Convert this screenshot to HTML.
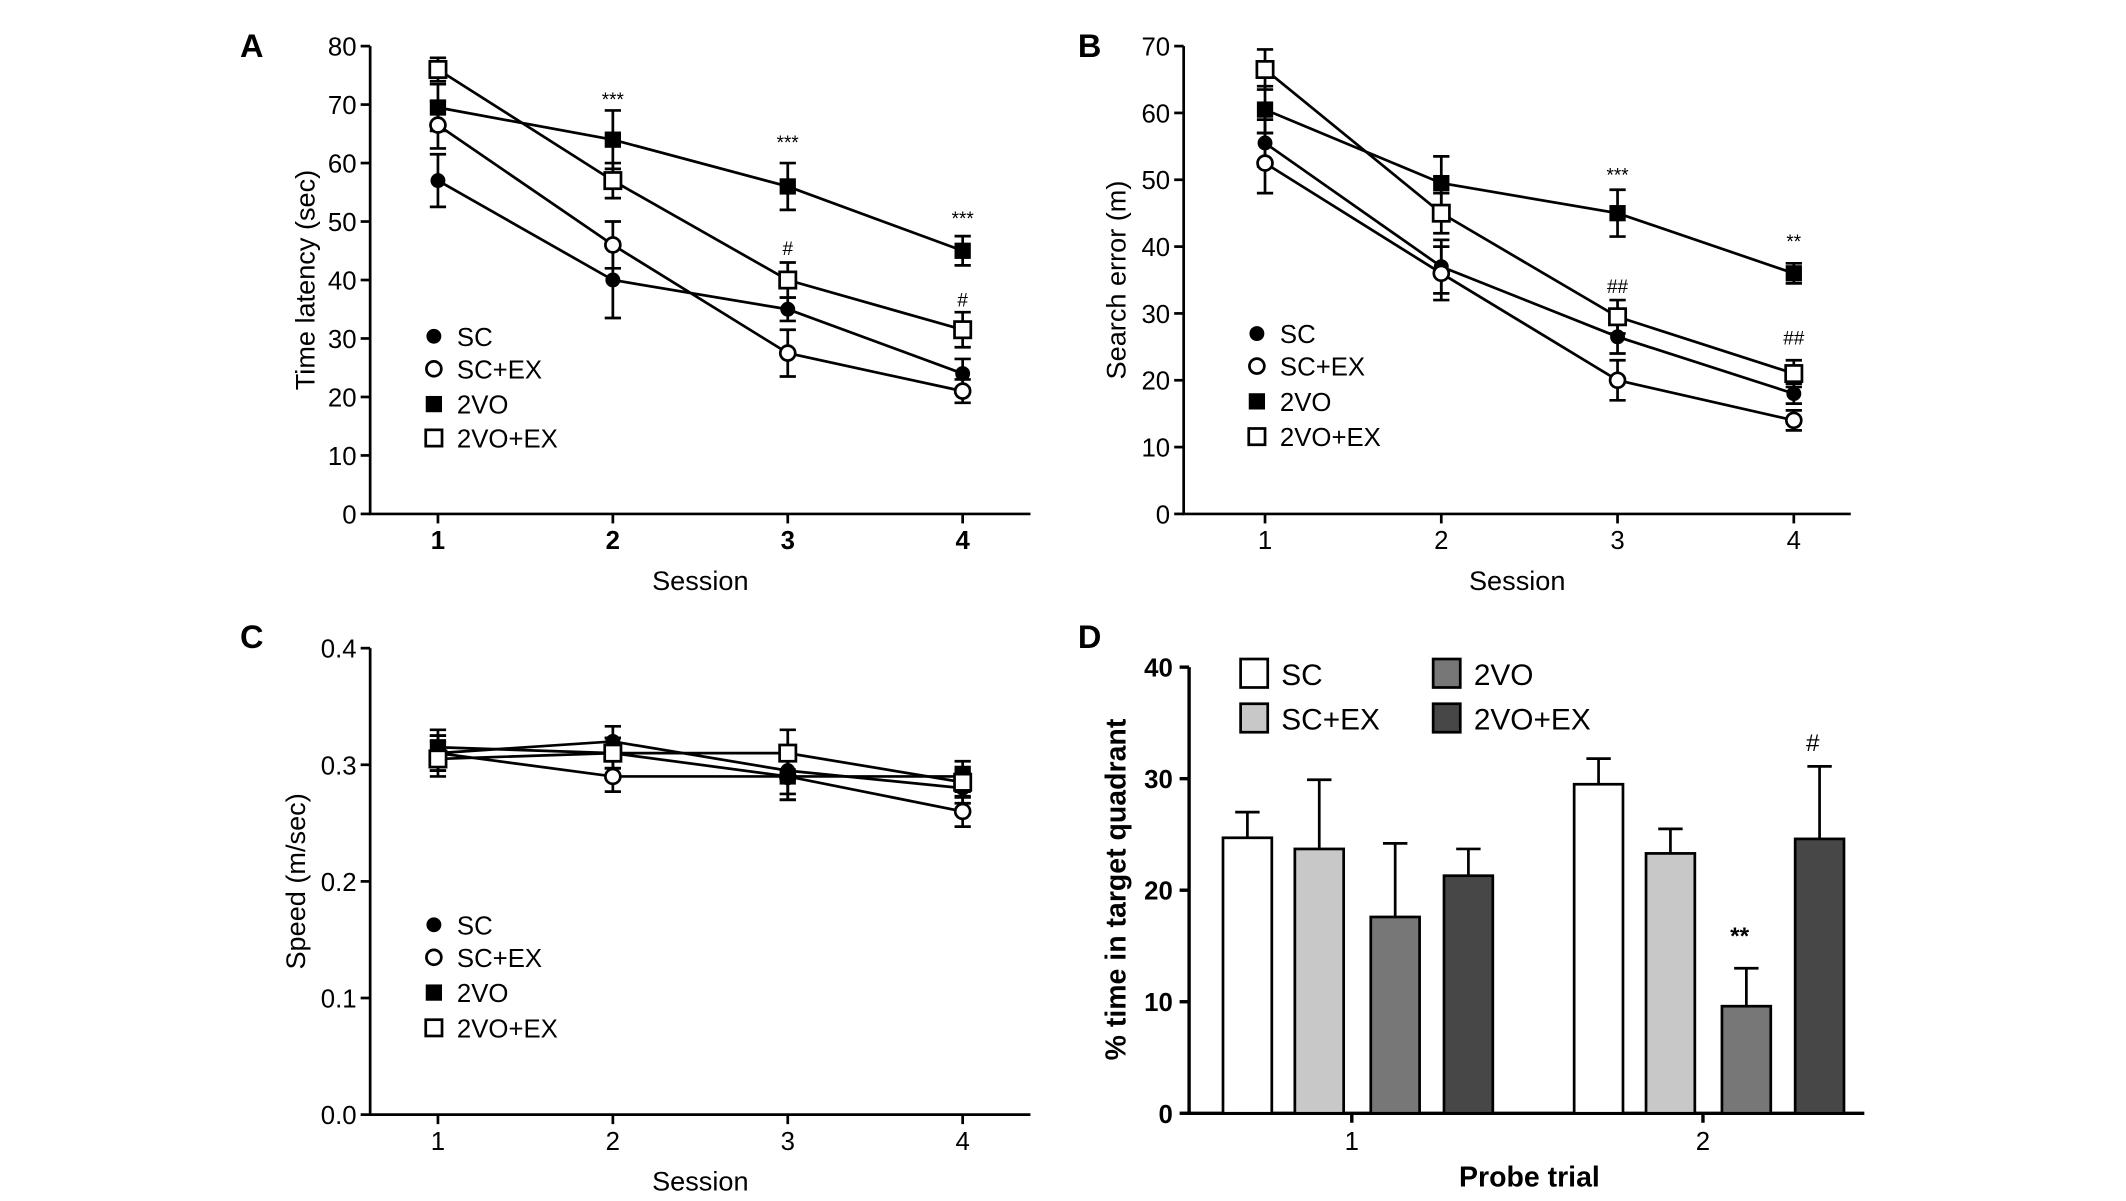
<!DOCTYPE html>
<html><head><meta charset="utf-8"><style>
html,body{margin:0;padding:0;background:#fff}
svg{display:block}
text{font-family:"Liberation Sans",sans-serif;fill:#000}
</style></head><body>
<svg id="fig" width="2126" height="1201" viewBox="0 0 1568 885.7" preserveAspectRatio="none" xmlns="http://www.w3.org/2000/svg"></svg>
<script>
const sessions=[1,2,3,4];
const groups=["SC","SC+EX","2VO","2VO+EX"];
// Panel A
const aSC=[57,40,35,24], aSCEX=[66.5,46,27.5,21], a2VO=[69.5,64,56,45], a2VOEX=[76,57,40,31.5];
const aErrSC=[4.5,6.5,2,2.5], aErrSCEX=[4,4,4,2], aErr2VO=[4,5,4,2.5], aErr2VOEX=[2,3,3,3];
const aTicks=[0,10,20,30,40,50,60,70,80];
// Panel B
const bSC=[55.5,37,26.5,18], bSCEX=[52.5,36,20,14], b2VO=[60.5,49.5,45,36], b2VOEX=[66.5,45,29.5,21];
const bErrSC=[3.5,4,2.5,1.5], bErrSCEX=[4.5,4,3,1.5], bErr2VO=[3.5,4,3.5,1.5], bErr2VOEX=[3,3,2.5,2];
const bTicks=[0,10,20,30,40,50,60,70];
// Panel C
const cSC=[0.31,0.32,0.295,0.28], cSCEX=[0.31,0.29,0.29,0.26], c2VO=[0.315,0.31,0.29,0.29], c2VOEX=[0.305,0.31,0.31,0.285];
const cErr=[0.015,0.013,0.02,0.013];
const cTicks=[0,0.1,0.2,0.3,0.4];
// Panel D
const probes=[1,2];
const dTrial1=[24.7,23.7,17.6,21.3], dTrial2=[29.5,23.3,9.6,24.6];
const dErr1=[2.3,6.2,6.6,2.4], dErr2=[2.3,2.2,3.4,6.5];
const dTicks=[0,10,20,30,40];

const svg=document.getElementById('fig');
const NS="http://www.w3.org/2000/svg";
function el(tag,attrs,parent){const e=document.createElementNS(NS,tag);for(const k in attrs)e.setAttribute(k,attrs[k]);(parent||svg).appendChild(e);return e;}
function txt(x,y,s,attrs){const t=el('text',Object.assign({x:x,y:y},attrs||{}));t.textContent=s;return t;}

function marker(g,type,x,y){
  let m;
  if(type===0) m=el('circle',{cx:x,cy:y,r:5.5,fill:'#000'},g);
  else if(type===1) m=el('circle',{cx:x,cy:y,r:5.5,fill:'#fff',stroke:'#000','stroke-width':2},g);
  else if(type===2) m=el('rect',{x:x-6,y:y-6,width:12,height:12,fill:'#000'},g);
  else m=el('rect',{x:x-6,y:y-6,width:12,height:12,fill:'#fff',stroke:'#000','stroke-width':2},g);
  
  
}

function linePanel(p){
  const g=el('g',{});
  
  
  const xs=i=>p.x0+(sessions[i]-1)*p.dx;
  const ys=v=>p.yb-(v-p.ymin)/(p.ymax-p.ymin)*(p.yb-p.yt);
  const ax=el('path',{d:`M${p.ax},${p.yt} V${p.yb} H${p.axr}`,stroke:'#000','stroke-width':2,fill:'none'},g);
  
  
  p.ticks.forEach(t=>{
    el('line',{x1:p.ax-7,x2:p.ax,y1:ys(t),y2:ys(t),stroke:'#000','stroke-width':2},g);
    const l=txt(p.ax-10,ys(t)+7,p.fmt(t),{'text-anchor':'end','font-size':19});
    
    
  });
  sessions.forEach((s,i)=>{
    el('line',{x1:xs(i),x2:xs(i),y1:p.yb,y2:p.yb+7,stroke:'#000','stroke-width':2},g);
    const l=txt(xs(i),p.yb+26,String(s),{'text-anchor':'middle','font-size':19,'font-weight':p.boldX?'bold':'normal'});
    
    
  });
  const xt=txt((p.ax+p.axr)/2,p.yb+56,'Session',{'text-anchor':'middle','font-size':20});
  
  
  const yc=(p.yt+p.yb)/2;
  const yt=txt(p.ytx,yc,p.ytitle,{'text-anchor':'middle','font-size':20,transform:`rotate(-90 ${p.ytx} ${yc})`});
  
  
  p.series.forEach((ser,k)=>{
    const pts=ser.map((v,i)=>xs(i)+','+ys(v)).join(' ');
    const pl=el('polyline',{points:pts,fill:'none',stroke:'#000','stroke-width':2},g);
    
    
  });
  p.series.forEach((ser,k)=>{
    ser.forEach((v,i)=>{
      const e=p.errs[k][i],x=xs(i);
      el('path',{d:`M${x},${ys(v-e)} V${ys(v+e)} M${x-6},${ys(v-e)} H${x+6} M${x-6},${ys(v+e)} H${x+6}`,stroke:'#000','stroke-width':2,fill:'none'},g);
    });
  });
  p.series.forEach((ser,k)=>ser.forEach((v,i)=>marker(g,k,xs(i),ys(v))));
  groups.forEach((n,k)=>{
    const y=p.legY[k];
    marker(g,k,p.legX,y);
    const l=txt(p.legX+17,y+7,n,{'font-size':19});
    
    
  });
  (p.ann||[]).forEach(a=>{
    const l=txt(xs(a[0]),a[1],a[2],{'text-anchor':'middle','font-size':14});
    
    
  });
}

linePanel({name:'panel-a',x0:323,dx:129,ax:273,axr:760,yt:34,yb:379,ymin:0,ymax:80,ticks:aTicks,fmt:t=>String(t),
  ytitle:'Time latency (sec)',ytx:232,boldX:true,series:[aSC,aSCEX,a2VO,a2VOEX],errs:[aErrSC,aErrSCEX,aErr2VO,aErr2VOEX],
  legX:320,legY:[248,272,298,323],ann:[[1,78,'***'],[2,110,'***'],[3,166,'***'],[2,188,'#'],[3,226,'#']]});
linePanel({name:'panel-b',x0:933,dx:130,ax:873,axr:1365,yt:34,yb:379,ymin:0,ymax:70,ticks:bTicks,fmt:t=>String(t),
  ytitle:'Search error (m)',ytx:830,boldX:false,series:[bSC,bSCEX,b2VO,b2VOEX],errs:[bErrSC,bErrSCEX,bErr2VO,bErr2VOEX],
  legX:927,legY:[246,270,296,322],ann:[[2,134,'***'],[3,183,'**'],[2,216,'##'],[3,254,'##']]});
linePanel({name:'panel-c',x0:323,dx:129,ax:273,axr:760,yt:478,yb:822,ymin:0,ymax:0.4,ticks:cTicks,fmt:t=>t.toFixed(1),
  ytitle:'Speed (m/sec)',ytx:225,boldX:false,series:[cSC,cSCEX,c2VO,c2VOEX],errs:[cErr,cErr,cErr,cErr],
  legX:320,legY:[682,706,732,758],ann:[]});

// Panel D
(function(){
  const g=el('g',{});
  
  
  const ax=877,axr=1375,yt=492,yb=821;
  const ys=v=>yb-v/40*(yb-yt);
  const colors=['#ffffff','#c8c8c8','#777777','#474747'];
  const centers=[997,1256];
  const offs=[-77,-24,32,86];
  el('path',{d:`M${ax},${yt} V${yb} H${axr}`,stroke:'#000','stroke-width':2.5,fill:'none'},g);
  dTicks.forEach(t=>{
    el('line',{x1:ax-7,x2:ax,y1:ys(t),y2:ys(t),stroke:'#000','stroke-width':2.5},g);
    const l=txt(ax-12,ys(t)+7,String(t),{'text-anchor':'end','font-size':19,'font-weight':'bold'});
    
    
  });
  const data=[dTrial1,dTrial2],errs=[dErr1,dErr2];
  probes.forEach((p,gi)=>{
    const c=centers[gi];
    el('line',{x1:c,x2:c,y1:yb,y2:yb+7,stroke:'#000','stroke-width':2.5},g);
    const l=txt(c,yb+27,String(p),{'text-anchor':'middle','font-size':19});
    
    
    data[gi].forEach((v,k)=>{
      const x=c+offs[k],e=errs[gi][k];
      el('path',{d:`M${x},${ys(v)} V${ys(v+e)} M${x-9},${ys(v+e)} H${x+9}`,stroke:'#000','stroke-width':2,fill:'none'},g);
      const b=el('rect',{x:x-18,y:ys(v),width:36,height:yb-ys(v),fill:colors[k],stroke:'#000','stroke-width':2},g);
      
      
    });
  });
  const t1=txt(1283,696,'**',{'text-anchor':'middle','font-size':18,'font-weight':'bold'});
  
  
  const t2=txt(1337,554,'#',{'text-anchor':'middle','font-size':18});
  
  
  const xt=txt(1128,875,'Probe trial',{'text-anchor':'middle','font-size':21,'font-weight':'bold'});
  
  
  const yt2=txt(830,656,'% time in target quadrant',{'text-anchor':'middle','font-size':21,'font-weight':'bold',transform:'rotate(-90 830 656)'});
  
  
  const lp=[[915,486],[915,519],[1057,486],[1057,519]];
  groups.forEach((n,k)=>{
    const r=el('rect',{x:lp[k][0],y:lp[k][1],width:20,height:21,fill:colors[k],stroke:'#000','stroke-width':2},g);
    
    
    const l=txt(lp[k][0]+30,lp[k][1]+19,n,{'font-size':22});
    
    
  });
})();

[['A',177,42],['B',795,42],['C',177,478],['D',795,478]].forEach(a=>{
  const l=txt(a[1],a[2],a[0],{'font-size':24,'font-weight':'bold','font-family':'Liberation Serif, serif'});
  
  
});
</script>
</body></html>
